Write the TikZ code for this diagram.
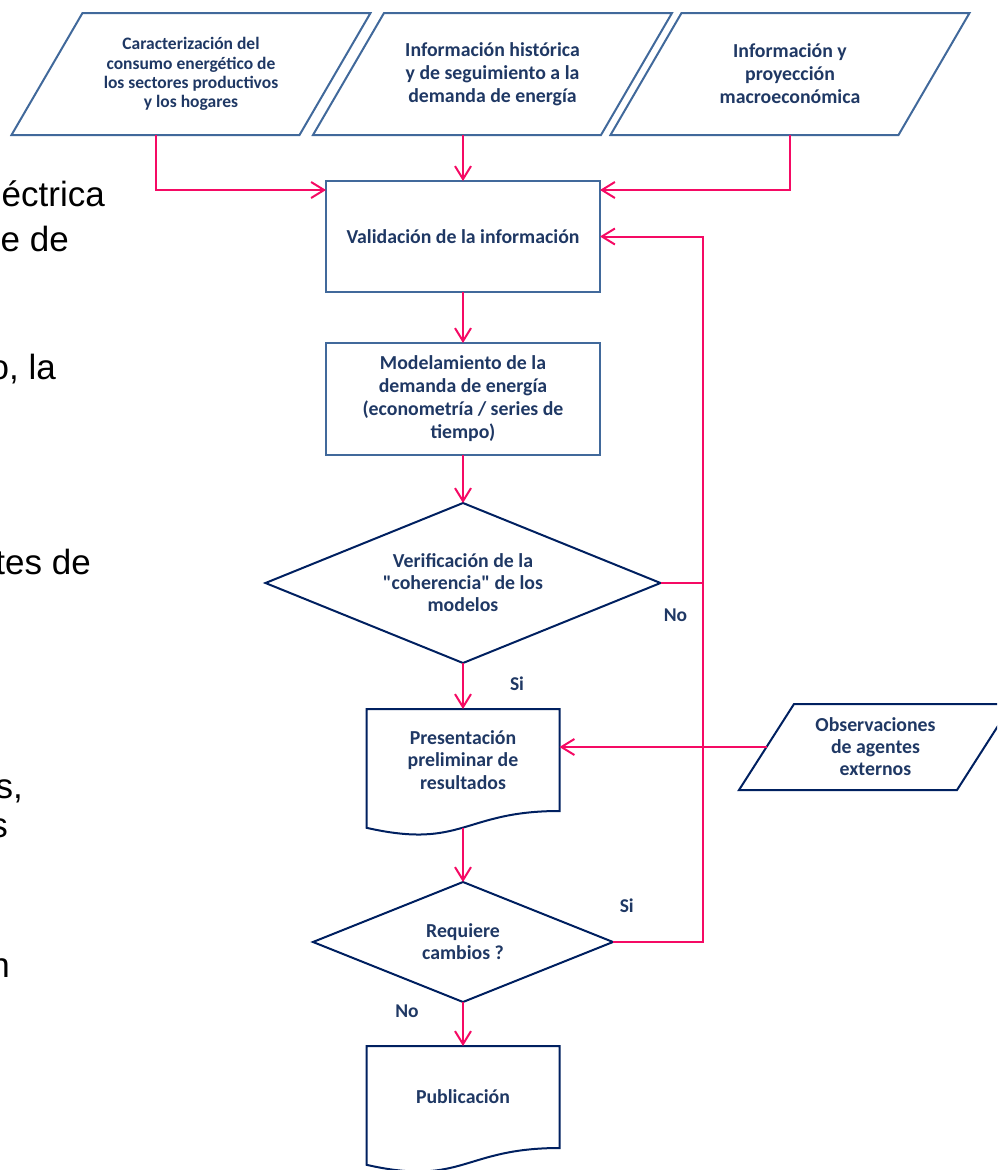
\documentclass[tikz,border=0pt]{standalone}
\usepackage{fontspec}
\setmainfont{Carlito}
\newfontfamily\slidefont{Liberation Sans}
\usepackage{tikz}
\usetikzlibrary{positioning,shapes.geometric,arrows.meta}
\definecolor{boxblue}{RGB}{65,105,155}
\definecolor{navyline}{RGB}{0,32,96}
\definecolor{navytext}{RGB}{31,56,100}
\definecolor{flowpink}{RGB}{245,10,100}
\tikzstyle{io} = [rectangle, minimum width=288pt, minimum height=122pt, inner sep=0pt, outer sep=0pt, align=center, text=navytext, font=\fontsize{19.8}{23}\selectfont\bfseries]
\tikzstyle{process} = [rectangle, minimum width=274pt, minimum height=111pt, inner sep=0pt, outer sep=0pt, align=center, draw=boxblue, line width=2pt, text=navytext, font=\fontsize{19.8}{23}\selectfont\bfseries]
\tikzstyle{decision} = [diamond, aspect=2.5, inner sep=0pt, outer sep=0pt, align=center, draw=navyline, line width=2pt, text=navytext, font=\fontsize{19.8}{22}\selectfont\bfseries]
\tikzstyle{document} = [rectangle, minimum width=193pt, minimum height=102pt, inner sep=0pt, outer sep=0pt, align=center, text=navytext, font=\fontsize{19.8}{22.5}\selectfont\bfseries]
\tikzstyle{answer} = [text=navytext, font=\fontsize{19.5}{22}\selectfont\bfseries]
\tikzstyle{slidetext} = [anchor=base east, inner sep=0pt, text=black, font=\slidefont\fontsize{35}{40}\selectfont]
\tikzstyle{arrow} = [line width=2pt, draw=flowpink, -{Straight Barb[length=13pt,width=16pt]}]
\tikzstyle{line} = [line width=2pt, draw=flowpink]
% slanted input box round a node: #2 is half the slant
\newcommand{\drawio}[3]{%
  \draw[#3, line width=2pt] ([xshift=-#2]#1.south west) -- ([xshift=-#2]#1.south east)
    -- ([xshift=#2]#1.north east) -- ([xshift=#2]#1.north west) -- cycle;}
% document symbol: wavy bottom below the node box
\newcommand{\drawdoc}[1]{%
  \draw[navyline, line width=2pt] (#1.north west) -- (#1.north east) -- (#1.south east)
    .. controls (#1.south) and ([yshift=-38.7pt]#1.south) .. ([yshift=-16.8pt]#1.south west) -- cycle;}

\begin{document}
\begin{tikzpicture}[node distance=170pt]
    \useasboundingbox (0,0) rectangle (997pt,-1170pt);
    \clip (0,0) rectangle (997pt,-1170pt);

    % text of the slide behind the chart
    \node (frag1) [slidetext] at (105pt,-206pt) {éctrica};
    \node (frag2) [slidetext] at (69pt,-251pt) {e de};
    \node (frag3) [slidetext] at (56pt,-379pt) {o, la};
    \node (frag4) [slidetext] at (91pt,-574pt) {tes de};
    \node (frag5) [slidetext] at (23pt,-798pt) {s,};
    \node (frag6) [slidetext] at (8pt,-837pt) {s};
    \node (frag7) [slidetext] at (10pt,-977pt) {n};

    \node (valid) [process] at (463pt,-236.5pt) {Validación de la información};
    \node (model) [process, below of=valid, yshift=7.5pt, minimum height=112pt] {Modelamiento de la\\demanda de energía\\(econometría / series de\\tiempo)};
    \node (verif) [decision, below of=model, yshift=-14pt, minimum width=395pt, minimum height=160pt] {Verificación de la\\\textquotedbl coherencia\textquotedbl{} de los\\modelos};
    \node (pres) [document, below of=verif, yshift=-7pt] {Presentación\\preliminar de\\resultados};
    \node (req) [decision, below of=pres, yshift=-12pt, minimum width=300pt, minimum height=120pt] {Requiere\\cambios ?};
    \node (pub) [document, below of=req, yshift=15pt] {Publicación};
    \drawdoc{pres}
    \drawdoc{pub}

    \node (p2) [io, above of=valid, xshift=29.5pt, yshift=-7.5pt] {Información histórica\\y de seguimiento a la\\demanda de energía};
    \node (p1) [io, left of=p2, xshift=-131.5pt, font=\fontsize{17.5}{19.3}\selectfont\bfseries] {Caracterización del\\consumo energético de\\los sectores productivos\\y los hogares};
    \node (p3) [io, right of=p2, xshift=127.5pt] {Información y\\proyección\\macroeconómica};
    \node (obs) [io, right of=pres, xshift=242.5pt, yshift=13pt, minimum width=218pt, minimum height=86pt, font=\fontsize{19.8}{22}\selectfont\bfseries] {Observaciones\\de agentes\\externos};
    \drawio{p1}{35.5pt}{boxblue}
    \drawio{p2}{35.5pt}{boxblue}
    \drawio{p3}{35.5pt}{boxblue}
    \drawio{obs}{27.5pt}{navyline}

    \coordinate (loop) at ([xshift=42pt]verif.east);

    \draw [arrow] ([xshift=-35.5pt]p1.south) |- ([yshift=-9pt]valid.north west);
    \draw [arrow] (p2.south -| valid.north) -- (valid.north);
    \draw [arrow] (p3.south) |- ([yshift=-9pt]valid.north east);
    \draw [arrow] (valid) -- (model);
    \draw [arrow] (model) -- (verif);
    \draw [arrow] (verif) -- node[answer, pos=0.45, xshift=54pt] {Si} (pres);
    \draw [line] (verif.east) -- node[answer, xshift=-6pt, yshift=-32pt] {No} (loop);
    \draw [arrow] (req.east) -- node[answer, xshift=-31pt, yshift=36pt] {Si} (req.east -| loop) -- (loop) |- (valid.east);
    \draw [arrow] (obs.west) -- (obs.west -| pres.east);
    \draw [arrow] ([yshift=-17pt]pres.south) -- (req.north);
    \draw [arrow] (req) -- node[answer, pos=0.2, xshift=-56pt] {No} (pub);
\end{tikzpicture}
\end{document}
